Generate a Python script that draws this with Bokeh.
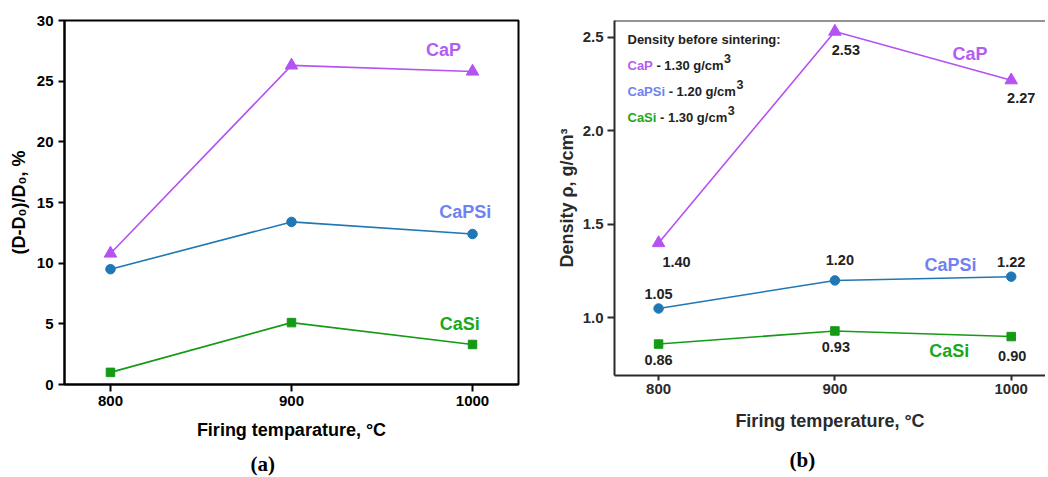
from bokeh.plotting import figure
from bokeh.layouts import row
from bokeh.models import Range1d, Label, Span, FixedTicker, Title, PrintfTickFormatter
from bokeh.embed import file_html
from bokeh.resources import INLINE

# ---------------- data ----------------
temps = [800, 900, 1000]
x_ticks = [800, 900, 1000]

shrink_cap = [10.8, 26.3, 25.8]
shrink_capsi = [9.5, 13.4, 12.4]
shrink_casi = [1.0, 5.1, 3.3]
shrink_ticks = [0, 5, 10, 15, 20, 25, 30]

dens_cap = [1.40, 2.53, 2.27]
dens_capsi = [1.05, 1.20, 1.22]
dens_casi = [0.86, 0.93, 0.90]
dens_ticks = [1.0, 1.5, 2.0, 2.5]

series_names = ["CaP", "CaPSi", "CaSi"]
green_density = ["1.30", "1.20", "1.30"]

# ---------------- styles ----------------
FONT = "Liberation Sans"
SERIF = "Liberation Serif"
C_CAP = "#B452F2"
C_CAPSI_LINE = "#1F78B4"
C_CASI_LINE = "#159A15"
T_CAP = "#B45CF2"
T_CAPSI = "#6F82F2"
T_CASI = "#1AA81A"

# Arial-bold advance widths (per 1000 em) to place colored text pieces
ADV = {'C': 722, 'a': 556, 'P': 667, 'S': 667, 'i': 278, ' ': 278, '-': 333,
       '0': 556, '1': 556, '2': 556, '3': 556, '.': 278, 'g': 611, '/': 278,
       'c': 556, 'm': 889}


def text_w(s, size):
    return sum(ADV.get(ch, 556) for ch in s) * size / 1000.0


def style_axes(p, color):
    for ax in (p.xaxis, p.yaxis):
        ax.axis_line_color = color
        ax.axis_line_width = 2
        ax.major_tick_line_color = color
        ax.major_tick_line_width = 2
        ax.major_tick_in = 0
        ax.minor_tick_in = 0
        ax.minor_tick_out = 0
        ax.major_label_text_font = FONT
        ax.major_label_text_font_style = "bold"
        ax.major_label_text_font_size = "15px"
        ax.major_label_text_color = color
        ax.axis_label_text_font = FONT
        ax.axis_label_text_font_style = "bold"
        ax.axis_label_text_font_size = "18px"
        ax.axis_label_text_color = color
    p.xgrid.visible = False
    p.ygrid.visible = False
    p.background_fill_color = "white"
    p.border_fill_color = "white"


def caption(text, offset, standoff):
    return Title(text=text, align="left", offset=offset, standoff=standoff,
                 text_font=SERIF, text_font_style="bold", text_font_size="21px",
                 text_color="#000000")


# ---------------- left panel (a) ----------------
L_X = (774.6, 1025.4)
L_Y = (0, 30)
p1 = figure(frame_width=454, frame_height=364,
            min_border_left=64, min_border_right=21,
            min_border_top=20, min_border_bottom=92,
            x_range=Range1d(*L_X), y_range=Range1d(*L_Y),
            output_backend="svg", toolbar_location=None)
style_axes(p1, "#000000")
p1.outline_line_color = "#000000"
p1.outline_line_width = 2
p1.xaxis.ticker = FixedTicker(ticks=x_ticks)
p1.yaxis.ticker = FixedTicker(ticks=shrink_ticks)
p1.xaxis.major_tick_out = 7
p1.yaxis.major_tick_out = 6
p1.xaxis.major_label_standoff = 4
p1.yaxis.major_label_standoff = 5
p1.xaxis.axis_label = "Firing temparature, °C"
p1.yaxis.axis_label = "(D-D₀)/D₀, %"
p1.xaxis.axis_label_standoff = 11
p1.yaxis.axis_label_standoff = 5

p1.line(temps, shrink_cap, line_color=C_CAP, line_width=1.6)
p1.scatter(temps, shrink_cap, marker="triangle", size=12.5, color=C_CAP)
p1.line(temps, shrink_capsi, line_color=C_CAPSI_LINE, line_width=1.6)
p1.scatter(temps, shrink_capsi, marker="circle", size=9.5, color=C_CAPSI_LINE)
p1.line(temps, shrink_casi, line_color=C_CASI_LINE, line_width=1.6)
p1.scatter(temps, shrink_casi, marker="square", size=8.5, color=C_CASI_LINE)

left_name_pos = [(984, 27.6), (996, 14.2), (993, 5.0)]
for name, (lx, ly), col in zip(series_names, left_name_pos, [T_CAP, T_CAPSI, T_CASI]):
    p1.add_layout(Label(x=lx, y=ly, text=name, text_color=col, text_font=FONT,
                        text_font_style="bold", text_font_size="18px",
                        text_align="center", text_baseline="middle"))

p1.add_layout(caption("(a)", 186, 15), "below")

# ---------------- right panel (b) ----------------
R_X = (775.0, 1019.45)
R_Y = (0.692, 2.589)
AX2 = "#2a2a2a"
p2 = figure(frame_width=431, frame_height=355,
            min_border_left=75, min_border_right=0,
            min_border_top=19, min_border_bottom=102,
            x_range=Range1d(*R_X), y_range=Range1d(*R_Y),
            output_backend="svg", toolbar_location=None)
style_axes(p2, AX2)
p2.outline_line_color = None
p2.add_layout(Span(location=R_Y[1], dimension="width", line_color=AX2, line_width=2))
p2.xaxis.ticker = FixedTicker(ticks=x_ticks)
p2.yaxis.ticker = FixedTicker(ticks=dens_ticks)
p2.yaxis.formatter = PrintfTickFormatter(format="%.1f")
p2.xaxis.major_tick_out = 5
p2.yaxis.major_tick_out = 7
p2.xaxis.major_label_standoff = 3
p2.yaxis.major_label_standoff = 4
p2.xaxis.axis_label = "Firing temperature, °C"
p2.yaxis.axis_label = "Density ρ, g/cm³"
p2.xaxis.axis_label_standoff = 14
p2.yaxis.axis_label_standoff = 3

p2.line(temps, dens_cap, line_color=C_CAP, line_width=1.6)
p2.scatter(temps, dens_cap, marker="triangle", size=12.5, color=C_CAP)
p2.line(temps, dens_capsi, line_color=C_CAPSI_LINE, line_width=1.6)
p2.scatter(temps, dens_capsi, marker="circle", size=9.5, color=C_CAPSI_LINE)
p2.line(temps, dens_casi, line_color=C_CASI_LINE, line_width=1.6)
p2.scatter(temps, dens_casi, marker="square", size=8.5, color=C_CASI_LINE)

# value labels: pixel offsets (right, down) from each point
val_offsets = {
    "CaP": [(18, 19), (11, 18), (10, 18)],
    "CaPSi": [(0, -15), (5, -20), (0, -15)],
    "CaSi": [(0, 16), (1, 16), (1, 19)],
}
for name, vals in zip(series_names, [dens_cap, dens_capsi, dens_casi]):
    for t, v, (dx, dy) in zip(temps, vals, val_offsets[name]):
        p2.add_layout(Label(x=t, y=v, x_offset=dx, y_offset=-dy, text=f"{v:.2f}",
                            text_color="#222222", text_font=FONT, text_font_style="bold",
                            text_font_size="14.5px", text_align="center",
                            text_baseline="middle"))

right_name_pos = [(976.6, 2.408), (965.6, 1.285), (964.8, 0.821)]
for name, (lx, ly), col in zip(series_names, right_name_pos, [T_CAP, T_CAPSI, T_CASI]):
    p2.add_layout(Label(x=lx, y=ly, text=name, text_color=col, text_font=FONT,
                        text_font_style="bold", text_font_size="18px",
                        text_align="center", text_baseline="middle"))

# legend block "Density before sintering"
LEG_X = 13
p2.add_layout(Label(x=R_X[0], y=R_Y[1], x_offset=LEG_X, y_offset=-19.3,
                    text="Density before sintering:", text_color="#222222",
                    text_font=FONT, text_font_style="bold", text_font_size="13px",
                    text_align="left", text_baseline="middle"))
row_centers = [45.0, 70.7, 97.3]
for name, dens, col, rc in zip(series_names, green_density, [T_CAP, T_CAPSI, T_CASI], row_centers):
    rest = f"- {dens} g/cm"
    w_name = text_w(name, 13)
    w_space = text_w(" ", 13)
    w_rest = text_w(rest, 13)
    p2.add_layout(Label(x=R_X[0], y=R_Y[1], x_offset=LEG_X, y_offset=-rc, text=name,
                        text_color=col, text_font=FONT, text_font_style="bold",
                        text_font_size="13px", text_align="left", text_baseline="middle"))
    p2.add_layout(Label(x=R_X[0], y=R_Y[1], x_offset=LEG_X + w_name + w_space, y_offset=-rc,
                        text=rest, text_color="#222222", text_font=FONT,
                        text_font_style="bold", text_font_size="13px",
                        text_align="left", text_baseline="middle"))
    p2.add_layout(Label(x=R_X[0], y=R_Y[1], x_offset=LEG_X + w_name + w_space + w_rest + 0.5,
                        y_offset=-(rc - 7), text="3",
                        text_color="#222222", text_font=FONT, text_font_style="bold",
                        text_font_size="12.5px", text_align="left", text_baseline="middle"))

p2.add_layout(caption("(b)", 175, 25), "below")

layout = row(p1, p2)
open("out.html", "w").write(file_html(layout, INLINE))
